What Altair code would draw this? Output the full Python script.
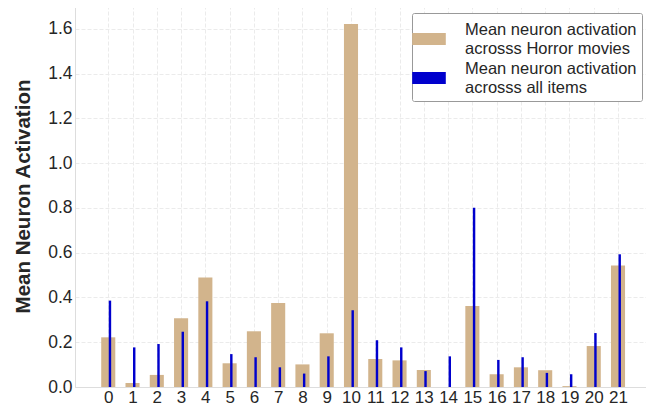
import altair as alt
import pandas as pd

neurons = list(range(22))
horror = [0.222, 0.018, 0.054, 0.307, 0.489, 0.106, 0.249, 0.375, 0.101, 0.240, 1.622,
          0.125, 0.119, 0.076, 0.0, 0.362, 0.057, 0.088, 0.075, 0.004, 0.183, 0.543]
all_items = [0.386, 0.177, 0.192, 0.247, 0.383, 0.147, 0.133, 0.088, 0.060, 0.137, 0.343,
             0.209, 0.177, 0.071, 0.137, 0.801, 0.121, 0.133, 0.063, 0.057, 0.241, 0.593]
series_names = ["Mean neuron activation|acrosss Horror movies",
                "Mean neuron activation|acrosss all items"]
y_ticks = [0.0, 0.2, 0.4, 0.6, 0.8, 1.0, 1.2, 1.4, 1.6]

rows = []
for i, v in zip(neurons, horror):
    rows.append({"neuron": i, "value": v, "series": series_names[0], "x0": i - 0.29, "x1": i + 0.29})
for i, v in zip(neurons, all_items):
    rows.append({"neuron": i, "value": v, "series": series_names[1], "x0": i + 0.02, "x1": i + 0.12})
df = pd.DataFrame(rows)

FONT = "Liberation Sans"

chart = alt.Chart(df).mark_rect().encode(
    x=alt.X("x0:Q",
            scale=alt.Scale(domain=[-1.37, 22.4], nice=False, zero=False),
            axis=alt.Axis(values=neurons, format="d", title=None, labelFontSize=17,
                          labelColor="#262626", ticks=False, labelPadding=2,
                          grid=True, gridColor="#ebebeb", gridDash=[4, 2],
                          domainColor="#dddddd", labelFont=FONT)),
    x2="x1:Q",
    y=alt.Y("value:Q",
            scale=alt.Scale(domain=[0, 1.707], nice=False),
            axis=alt.Axis(values=y_ticks, format=".1f", title="Mean Neuron Activation",
                          titleFontSize=20.5, titleFontWeight="bold", titleColor="#262626",
                          titlePadding=14, titleFont=FONT,
                          labelFontSize=17.5, labelColor="#262626", ticks=False, labelPadding=3,
                          grid=True, gridColor="#ebebeb", gridDash=[4, 2],
                          domainColor="#dddddd", labelFont=FONT)),
    y2=alt.datum(0),
    color=alt.Color("series:N",
                    scale=alt.Scale(domain=series_names, range=["#D2B48C", "#0000CD"]),
                    legend=alt.Legend(title=None, orient="none", legendX=337, legendY=8,
                                      labelExpr="split(datum.label, '|')",
                                      labelFontSize=16.5, labelFont=FONT, labelColor="#262626",
                                      labelLimit=400,
                                      symbolType="M-1.4,0.25H1.4V1.25H-1.4Z", symbolSize=576,
                                      symbolStrokeWidth=0, symbolOpacity=1,
                                      rowPadding=0, padding=5, labelOffset=24,
                                      strokeColor="#999999", fillColor="white",
                                      cornerRadius=2)),
    order=alt.Order("series:N"),
).properties(
    width=577, height=382,
    autosize=alt.AutoSizeParams(type="none"),
    padding={"left": 67, "top": -3, "right": -6, "bottom": 19},
).configure_view(stroke="#dddddd")

chart.save("out.html", embed_options={"renderer": "svg", "actions": False})
